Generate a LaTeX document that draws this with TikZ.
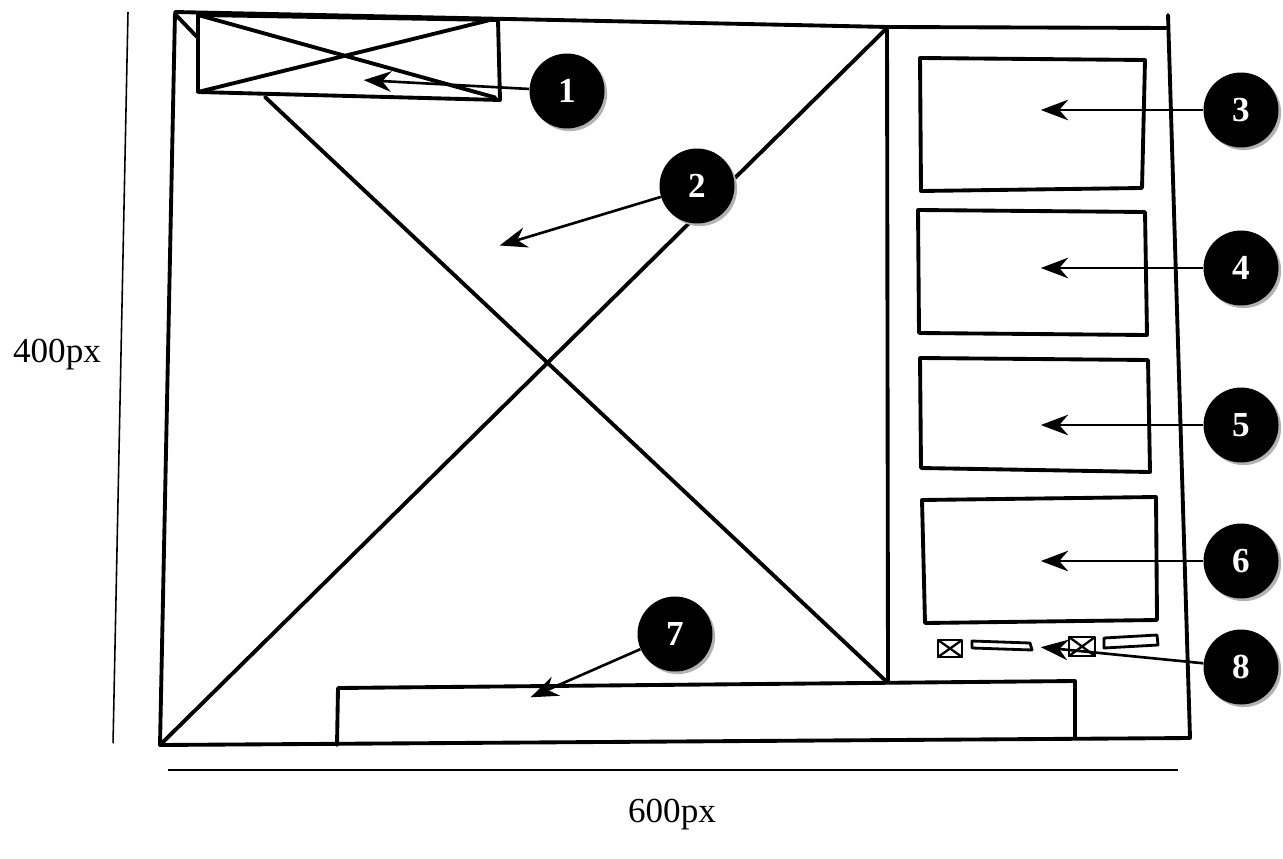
\documentclass[tikz,border=0pt]{standalone}
\usepackage{fontspec}
\setmainfont{Liberation Serif}
\usetikzlibrary{shadows, arrows.meta, positioning, calc}

\tikzset{
  sketch/.style={line width=2.2pt, line join=round, line cap=round},
  num/.style={circle, fill=black, text=white, minimum size=1.5cm, inner sep=0pt,
    font=\fontsize{20}{24}\selectfont\bfseries,
    drop shadow={shadow xshift=1.5pt, shadow yshift=-1.5pt, fill=black!30, opacity=1}},
  dimlabel/.style={font=\fontsize{20}{24}\selectfont},
}

\begin{document}
\begin{tikzpicture}[x=0.02cm, y=-0.02cm, > = {Stealth[scale=1.6]}, shorten > = 1pt]
    \useasboundingbox (0,0) rectangle (1283,858);
    % outer frame
    \draw[sketch] (175,12) -- (888,27) -- (1168,28);
    \draw[sketch] (1168,15) -- (1190,738) -- (160,745) -- (175,12);
    % big cross of the main image
    \draw[sketch] (888,27) -- (160,745);
    \draw[sketch] (175,14) -- (198,38);
    \draw[sketch] (265,97) -- (888,683);
    \draw[sketch] (887,27) -- (888,683);
    % logo box
    \draw[sketch] (198,15) -- (498,20) -- (500,100) -- (198,92) -- cycle;
    \draw[sketch] (198,15) -- (497,98);
    \draw[sketch] (198,92) -- (490,20);
    % right column boxes
    \draw[sketch] (920,58) -- (1145,60) -- (1142,188) -- (921,191) -- cycle;
    \draw[sketch] (918,210) -- (1145,212) -- (1147,335) -- (919,333) -- cycle;
    \draw[sketch] (920,358) -- (1148,360) -- (1150,472) -- (921,468) -- cycle;
    \draw[sketch] (922,500) -- (1156,497) -- (1157,620) -- (925,623) -- cycle;
    % small icons
    \draw[sketch, line width=1.6pt] (938,640) rectangle (962,657);
    \draw[sketch, line width=1.3pt] (938,640) -- (962,657) (938,657) -- (962,640);
    \draw[sketch, line width=1.6pt] (972,641) -- (1030,643) -- (1032,650) -- (972,648) -- cycle;
    \draw[sketch, line width=1.6pt] (1069,637) rectangle (1095,656);
    \draw[sketch, line width=1.3pt] (1069,637) -- (1095,656) (1069,656) -- (1095,637);
    \draw[sketch, line width=1.6pt] (1104,638) -- (1157,635) -- (1158,645) -- (1104,648) -- cycle;
    % bottom bar
    \draw[sketch] (337,745) -- (338,688) -- (1075,681) -- (1075,740);
    % dimension lines
    \draw[line width=0.9pt] (128,12) -- (113,745);
    \draw[line width=0.9pt] (168,770) -- (1180,770);
    \node[dimlabel] (height) at (57,355) {400px};
    \node[dimlabel] (width) at (672,815) {600px};
    % numbered markers
    \node[num] (n1) at (567,91) {1};
    \node[num] (n2) at (697,186) {2};
    \node[num] (n3) at (1241,110) {3};
    \node[num] (n4) at (1241,268) {4};
    \node[num] (n5) at (1241,425) {5};
    \node[num] (n6) at (1241,561) {6};
    \node[num] (n7) at (675,634) {7};
    \node[num] (n8) at (1241,667) {8};
    \coordinate (t1) at (362,80);
    \coordinate (t2) at (498,246);
    \coordinate (t3) at (1039,110);
    \coordinate (t4) at (1039,268);
    \coordinate (t5) at (1039,425);
    \coordinate (t6) at (1039,561);
    \coordinate (t7) at (529,698);
    \coordinate (t8) at (1039,647);
    \foreach \i in {1,...,8}
      \draw[->, line width=1.5pt] (n\i) -- (t\i);
\end{tikzpicture}
\end{document}
